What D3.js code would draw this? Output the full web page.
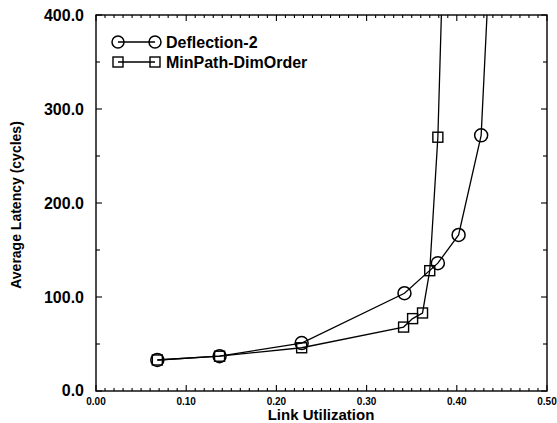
<!DOCTYPE html>
<html>
<head>
<meta charset="utf-8">
<script src="https://cdn.jsdelivr.net/npm/d3@7"></script>
<style>
  html, body { margin: 0; padding: 0; background: #fff; }
  svg { display: block; }
  text { font-family: "Liberation Sans", Arial, Helvetica, sans-serif; font-weight: bold; fill: #000; }
</style>
</head>
<body>
<svg id="chart" width="557" height="423"></svg>
<script>
// ---- data ----
const seriesNames = ["Deflection-2", "MinPath-DimOrder"];
const deflUtil = [0.068, 0.137, 0.228, 0.342, 0.379, 0.402, 0.427, 0.4345];
const deflLat  = [33, 37, 51, 104, 136, 166, 272, 420];
const minpUtil = [0.068, 0.137, 0.228, 0.341, 0.351, 0.362, 0.370, 0.379, 0.3835];
const minpLat  = [33, 37, 46, 68, 77, 83, 128, 270, 420];
const xTicks = [0.0, 0.1, 0.2, 0.3, 0.4, 0.5];
const xTickLabels = ["0.00", "0.10", "0.20", "0.30", "0.40", "0.50"];
const yTicks = [0, 100, 200, 300, 400];
const yTickLabels = ["0.0", "100.0", "200.0", "300.0", "400.0"];
const xTitle = "Link Utilization";
const yTitle = "Average Latency (cycles)";

// ---- layout ----
const L = 96, R = 547, T = 15, B = 391;
const svg = d3.select("#chart");
const x = d3.scaleLinear().domain([0, 0.5]).range([L, R]);
const y = d3.scaleLinear().domain([0, 400]).range([B, T]);

const xMinor = d3.range(0, 51).map(i => i / 100);
const yMinor = d3.range(0, 9).map(i => i * 50);

// frame
svg.append("rect").attr("x", L).attr("y", T).attr("width", R - L).attr("height", B - T)
  .attr("fill", "none").attr("stroke", "#000").attr("stroke-width", 1.4);

const tickG = svg.append("g").attr("stroke", "#000").attr("stroke-width", 1.1);
// bottom & top ticks
xMinor.forEach(v => {
  const major = Math.abs(v * 10 - Math.round(v * 10)) < 1e-6;
  const len = major ? 6 : 3;
  tickG.append("line").attr("x1", x(v)).attr("x2", x(v)).attr("y1", B).attr("y2", B - len);
  tickG.append("line").attr("x1", x(v)).attr("x2", x(v)).attr("y1", T).attr("y2", T + len);
});
// left & right ticks
yMinor.forEach(v => {
  const major = v % 100 === 0;
  const len = major ? 6 : 4;
  tickG.append("line").attr("y1", y(v)).attr("y2", y(v)).attr("x1", L).attr("x2", L + len);
  tickG.append("line").attr("y1", y(v)).attr("y2", y(v)).attr("x1", R).attr("x2", R - len);
});

// x tick labels
svg.append("g").selectAll("text").data(xTicks).join("text")
  .attr("x", d => x(d)).attr("y", B + 14)
  .attr("text-anchor", "middle").attr("font-size", 10)
  .text((d, i) => xTickLabels[i]);

// y tick labels
svg.append("g").selectAll("text").data(yTicks).join("text")
  .attr("x", L - 12).attr("y", d => d === 0 ? y(d) + 5 : y(d) + 6)
  .attr("text-anchor", "end").attr("font-size", 16)
  .text((d, i) => yTickLabels[i]);

// titles
svg.append("text").attr("x", 321).attr("y", 420).attr("text-anchor", "middle")
  .attr("font-size", 15).text(xTitle);
svg.append("text").attr("transform", "translate(21,205) rotate(-90)")
  .attr("text-anchor", "middle").attr("font-size", 14).text(yTitle);

// clip
svg.append("clipPath").attr("id", "plotclip").append("rect")
  .attr("x", L).attr("y", T).attr("width", R - L).attr("height", B - T);

const line = d3.line().x(d => x(d[0])).y(d => y(d[1]));
const defl = deflUtil.map((u, i) => [u, deflLat[i]]);
const minp = minpUtil.map((u, i) => [u, minpLat[i]]);

const plot = svg.append("g").attr("clip-path", "url(#plotclip)");
plot.append("path").datum(defl).attr("d", line).attr("fill", "none")
  .attr("stroke", "#000").attr("stroke-width", 1.3);
plot.append("path").datum(minp).attr("d", line).attr("fill", "none")
  .attr("stroke", "#000").attr("stroke-width", 1.3);

const inRange = d => d[1] <= 400;
plot.selectAll("circle.m").data(defl.filter(inRange)).join("circle")
  .attr("class", "m").attr("cx", d => x(d[0])).attr("cy", d => y(d[1])).attr("r", 6.5)
  .attr("fill", "none").attr("stroke", "#000").attr("stroke-width", 1.5);
plot.selectAll("rect.m").data(minp.filter(inRange)).join("rect")
  .attr("class", "m").attr("x", d => x(d[0]) - 5).attr("y", d => y(d[1]) - 5)
  .attr("width", 10).attr("height", 10)
  .attr("fill", "none").attr("stroke", "#000").attr("stroke-width", 1.4);

// legend
const lg = svg.append("g");
const legY = [42, 62];
[0, 1].forEach(i => {
  const yy = legY[i];
  lg.append("line").attr("x1", 118).attr("x2", 155).attr("y1", yy).attr("y2", yy)
    .attr("stroke", "#000").attr("stroke-width", 1.3);
  [118, 155].forEach(cx => {
    if (i === 0) {
      lg.append("circle").attr("cx", cx).attr("cy", yy).attr("r", 6)
        .attr("fill", "none").attr("stroke", "#000").attr("stroke-width", 1.5);
    } else {
      lg.append("rect").attr("x", cx - 5).attr("y", yy - 5).attr("width", 10).attr("height", 10)
        .attr("fill", "none").attr("stroke", "#000").attr("stroke-width", 1.4);
    }
  });
  lg.append("text").attr("x", 166).attr("y", yy + 6).attr("font-size", 16).text(seriesNames[i]);
});
</script>
</body>
</html>
